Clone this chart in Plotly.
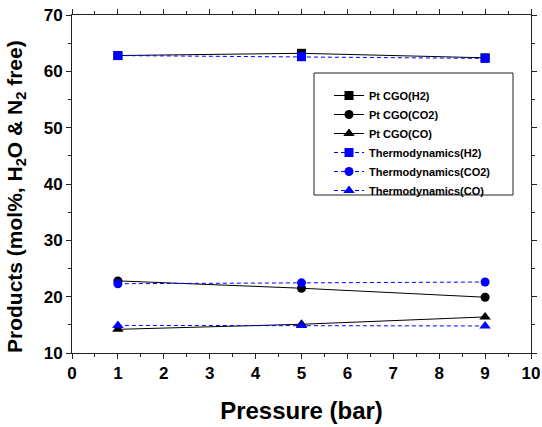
import plotly.graph_objects as go

pressure = [1, 5, 9]
pt_h2 = [62.8, 63.2, 62.4]
pt_co2 = [22.8, 21.5, 19.9]
pt_co = [14.2, 15.1, 16.4]
th_h2 = [62.8, 62.6, 62.3]
th_co2 = [22.3, 22.45, 22.6]
th_co = [14.9, 14.9, 14.8]

names = ["Pt CGO(H2)", "Pt CGO(CO2)", "Pt CGO(CO)",
         "Thermodynamics(H2)", "Thermodynamics(CO2)", "Thermodynamics(CO)"]
series = [pt_h2, pt_co2, pt_co, th_h2, th_co2, th_co]
symbols = ["square", "circle", "triangle-up", "square", "circle", "triangle-up"]

fig = go.Figure()
for i, (nm, ys, sym) in enumerate(zip(names, series, symbols)):
    pt = i < 3
    col = "black" if pt else "#0000ff"
    fig.add_trace(go.Scatter(
        x=pressure, y=ys, name=nm, mode="lines+markers",
        line=dict(color=col, width=1, dash="solid" if pt else "4px,3px"),
        marker=dict(symbol=sym, size=9 if sym != "triangle-up" else 10, color=col),
    ))

font_family = "Liberation Sans, Arial, sans-serif"
axis_common = dict(
    showline=True, linecolor="#222", linewidth=1, mirror="ticks",
    ticks="outside", ticklen=5, tickcolor="#222", showgrid=False, zeroline=False,
    automargin=False,
    tickfont=dict(family=font_family, size=17, color="black", weight="bold"),
)
fig.update_xaxes(range=[0, 10], dtick=1, **axis_common,
                 minor=dict(dtick=0.5, ticks="outside", ticklen=3, tickcolor="#222"),
                 title=dict(text="<b>Pressure (bar)</b>", standoff=19,
                            font=dict(family=font_family, size=24, color="black")))
fig.update_yaxes(range=[10, 70], dtick=10, **axis_common,
                 minor=dict(dtick=5, ticks="outside", ticklen=3, tickcolor="#222"))

fig.add_annotation(
    text="<b>Products (mol%, H<sub>2</sub>O & N<sub>2</sub> free)</b>",
    xref="paper", yref="paper", x=(16 - 72) / 459, y=(353 - 197) / 338,
    xanchor="center", yanchor="middle", textangle=-90, showarrow=False,
    font=dict(family=font_family, size=21, color="black"),
)

fig.add_shape(type="rect", xref="paper", yref="paper",
              x0=(314 - 72) / 459, x1=(513 - 72) / 459,
              y0=(353 - 195) / 338, y1=(353 - 73) / 338,
              line=dict(color="#222", width=1), fillcolor="rgba(0,0,0,0)")

fig.update_layout(
    width=542, height=427,
    margin=dict(l=72, r=11, t=15, b=74, autoexpand=False),
    paper_bgcolor="white", plot_bgcolor="white",
    font=dict(family=font_family, color="black"),
    legend=dict(x=(329 - 72) / 459, y=(353 - 81) / 338, xanchor="left", yanchor="top",
                bgcolor="rgba(0,0,0,0)", borderwidth=0, tracegroupgap=0,
                itemwidth=30,
                font=dict(family=font_family, size=11, color="black", weight="bold")),
)

fig.write_html("out.html")
